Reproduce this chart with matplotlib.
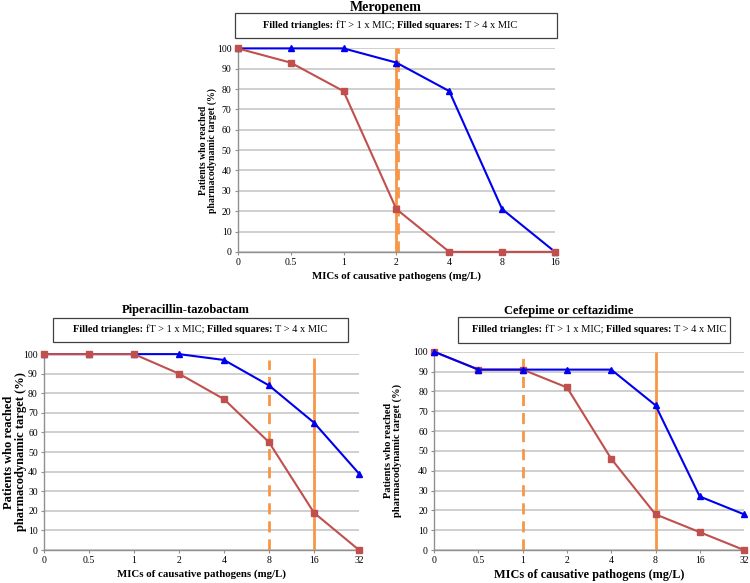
import numpy as np
import matplotlib.pyplot as plt
import matplotlib.transforms as mtransforms
from matplotlib.patches import Rectangle

plt.rcParams['font.family'] = ['Liberation Serif', 'DejaVu Serif']

# Data
mero_mic = ['0', '0.5', '1', '2', '4', '8', '16']
mero_tri = [100, 100, 100, 93, 79, 21, 0]
mero_sq = [100, 93, 79, 21, 0, 0, 0]
mero_solid = '2'
mero_dashed = '2'
mero_line_top = [100, 100]   # solid, dashed

pip_mic = ['0', '0.5', '1', '2', '4', '8', '16', '32']
pip_tri = [100, 100, 100, 100, 97, 84, 65, 39]
pip_sq = [100, 100, 100, 90, 77, 55, 19, 0]
pip_solid = '16'
pip_dashed = '8'
pip_line_top = [98, 97]

cef_mic = ['0', '0.5', '1', '2', '4', '8', '16', '32']
cef_tri = [100, 91, 91, 91, 91, 73, 27, 18]
cef_sq = [100, 91, 91, 82, 46, 18, 9, 0]
cef_solid = '8'
cef_dashed = '1'
cef_line_top = [100, 98]

BLUE = '#0000ee'
RED = '#c0504d'
ORANGE = '#f79646'
GRID = '#cccccc'

fig = plt.figure(figsize=(7.5, 5.83), dpi=100)


def panel(rect, title, mic, tri, sq, solid, dashed, line_top, blue_top,
          lab_fs, ylab_fs, ylab_x, title_fs, title_xy, box, txt_x):
    ax = fig.add_axes(rect)
    x = np.arange(len(mic))
    ax.set_xlim(0, len(mic) - 1)
    ax.set_ylim(0, 100)
    ax.set_yticks(np.arange(0, 101, 10))
    ax.set_xticks(x)
    ax.set_xticklabels(mic)
    ax.tick_params(length=2.5, width=0.8, color='#909090', labelsize=7, pad=2)
    ax.grid(axis='y', color=GRID, lw=1.3)
    ax.set_axisbelow(True)
    for s in ['top', 'right']:
        ax.spines[s].set_visible(False)
    for s in ['left', 'bottom']:
        ax.spines[s].set_color('#909090')
        ax.spines[s].set_linewidth(1.0)

    xs = mic.index(solid)
    xd = mic.index(dashed)
    ax.vlines(xs, 0, line_top[0], color=ORANGE, lw=2, zorder=2)
    tr = ax.transData
    if xs == xd:
        tr = tr + mtransforms.ScaledTranslation(2 / 100, 0, fig.dpi_scale_trans)
    ax.vlines(xd, 0, line_top[1], color=ORANGE, lw=2, linestyles=(0, (4, 2.5)), zorder=2, transform=tr)

    zt, zs = (4, 3) if blue_top else (3, 4)
    ax.plot(x, tri, color=BLUE, lw=1.5, marker='^', ms=5, zorder=zt, clip_on=False)
    ax.plot(x, sq, color=RED, lw=1.5, marker='s', ms=5, zorder=zs, clip_on=False)

    ax.set_xlabel('MICs of causative pathogens (mg/L)', fontsize=lab_fs, fontweight='bold', labelpad=3)
    ax.set_ylabel('Patients who reached\npharmacodynamic target (%)', fontsize=ylab_fs,
                  fontweight='bold', linespacing=0.95)
    ax.yaxis.set_label_coords(ylab_x, 0.5)

    # legend box above the panel
    bx0, by0, bx1, by1 = box
    fig.patches.append(Rectangle((bx0 / 750, 1 - by1 / 583), (bx1 - bx0) / 750, (by1 - by0) / 583,
                                 transform=fig.transFigure, fill=False, ec='#404040', lw=0.9))
    fig.text(title_xy[0] / 750, 1 - title_xy[1] / 583, title, ha='center', va='center',
             fontsize=title_fs, fontweight='bold')
    parts = [('Filled triangles: ', 'bold'), ('fT > 1 x MIC; ', 'normal'),
             ('Filled squares: ', 'bold'), ('T > 4 x MIC', 'normal')]
    ty = 1 - (by0 + by1) / 2 / 583
    t = fig.text(txt_x / 750, ty, parts[0][0], fontsize=7.5, fontweight=parts[0][1], va='center')
    for s, w in parts[1:]:
        t = ax.annotate(s, xy=(1, 0.5), xycoords=t, va='center', ha='left',
                        fontsize=7.5, fontweight=w, annotation_clip=False)
    return ax


panel([0.317, 0.568, 0.423, 0.349], 'Meropenem', mero_mic, mero_tri, mero_sq,
      mero_solid, mero_dashed, mero_line_top, False, 7.8, 7, -0.066, 10, (386, 7),
      (235, 13, 557, 38), 263)
panel([0.0587, 0.0566, 0.420, 0.336], 'Piperacillin-tazobactam', pip_mic, pip_tri, pip_sq,
      pip_solid, pip_dashed, pip_line_top, False, 7.8, 9, -0.054, 9, (186, 310),
      (53, 318, 348, 342), 73)
panel([0.579, 0.0566, 0.413, 0.340], 'Cefepime or ceftazidime', cef_mic, cef_tri, cef_sq,
      cef_solid, cef_dashed, cef_line_top, True, 8.8, 7.6, -0.103, 9, (569, 311),
      (458, 317, 730, 343), 472)

fig.savefig('out.png', dpi=100)
